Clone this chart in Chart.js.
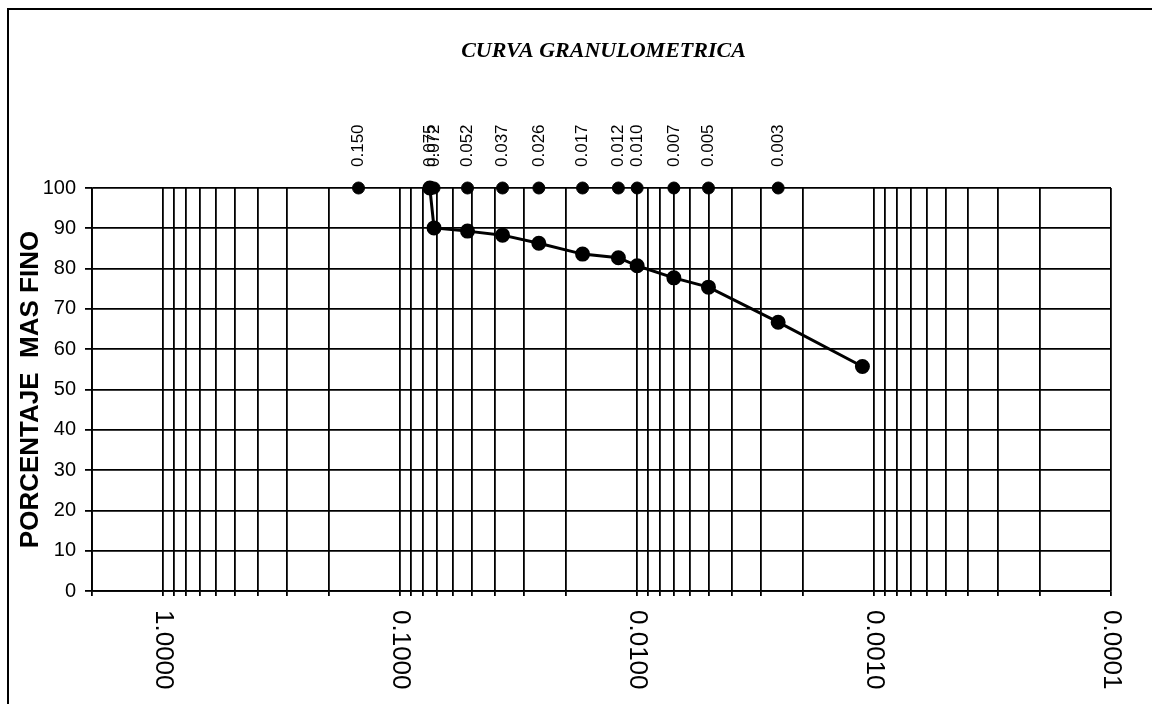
<!DOCTYPE html>
<html>
<head>
<meta charset="utf-8">
<title>Curva granulometrica</title>
<script src="https://cdn.jsdelivr.net/npm/chart.js@4.4.0/dist/chart.umd.min.js"></script>
<style>
  html, body { margin: 0; padding: 0; background: #fff; }
</style>
</head>
<body>
<canvas id="chart" width="1152" height="704"></canvas>
<script>
const titleText = "CURVA GRANULOMETRICA";
const yTitle = "PORCENTAJE  MAS FINO";

// diameters (mm) marked along the 100 % line, each with its label
const markDiameters = [0.150, 0.075, 0.072, 0.052, 0.037, 0.026, 0.017, 0.012, 0.010, 0.007, 0.005, 0.00254];
const markPercent = [100, 100, 100, 100, 100, 100, 100, 100, 100, 100, 100, 100];

// hydrometer / sieve curve
const curveDiameters = [0.075, 0.072, 0.052, 0.037, 0.026, 0.017, 0.012, 0.010, 0.007, 0.005, 0.00254, 0.00112];
const curvePercent = [100, 90.1, 89.3, 88.3, 86.3, 83.6, 82.7, 80.7, 77.7, 75.4, 66.7, 55.7];

// labelled decades on the x axis, and the 1..9 grid inside each decade
const xLabelValues = [1, 0.1, 0.01, 0.001, 0.0001];
const gridDecades = [0.0001, 0.001, 0.01, 0.1, 1];
const gridSteps = [1, 2, 3, 4, 5, 6, 7, 8, 9];
const X_MIN = 0.0001;
const X_MAX = 2;

const sans = "Arial, 'Liberation Sans', sans-serif";

const gridValues = [];
for (const d of gridDecades) {
  for (const s of gridSteps) {
    const v = +(s * d).toPrecision(6);
    if (v <= X_MAX) gridValues.push(v);
  }
}
if (!gridValues.includes(X_MAX)) gridValues.push(X_MAX);

const toPoints = (xs, ys) => xs.map((x, i) => ({ x, y: ys[i] }));

const decor = {
  id: "decor",
  afterDraw(chart) {
    const { ctx, chartArea } = chart;
    const xScale = chart.scales.x;
    ctx.save();

    // outer frame
    ctx.strokeStyle = "#000";
    ctx.lineWidth = 2;
    ctx.strokeRect(8, 9, 1300, 900);

    // title
    ctx.fillStyle = "#000";
    ctx.font = "italic bold 22px 'Liberation Serif', 'Times New Roman', serif";
    ctx.textAlign = "center";
    ctx.textBaseline = "alphabetic";
    ctx.fillText(titleText, (chartArea.left + chartArea.right) / 2 + 2, 57);

    // diameter labels above the markers
    ctx.font = "17px " + sans;
    ctx.textAlign = "left";
    ctx.textBaseline = "middle";
    chart.getDatasetMeta(0).data.forEach((pt, i) => {
      ctx.save();
      ctx.translate(pt.x, chartArea.top - 21);
      ctx.rotate(-Math.PI / 2);
      ctx.fillText(markDiameters[i].toFixed(3), 0, 0);
      ctx.restore();
    });

    // x axis decade labels, reading downwards
    ctx.font = "26px " + sans;
    for (const v of xLabelValues) {
      ctx.save();
      ctx.translate(xScale.getPixelForValue(v), chartArea.bottom + 19);
      ctx.rotate(Math.PI / 2);
      ctx.fillText(v.toFixed(4), 0, 0);
      ctx.restore();
    }
    ctx.restore();
  }
};

new Chart(document.getElementById("chart"), {
  type: "scatter",
  data: {
    datasets: [
      {
        data: toPoints(markDiameters, markPercent),
        showLine: false,
        pointRadius: 6,
        pointBackgroundColor: "#000",
        pointBorderColor: "#000",
        clip: false
      },
      {
        data: toPoints(curveDiameters, curvePercent),
        showLine: true,
        borderColor: "#000",
        borderWidth: 3,
        pointRadius: 6,
        pointBackgroundColor: "#000",
        pointBorderColor: "#000",
        clip: false
      }
    ]
  },
  options: {
    responsive: false,
    animation: false,
    layout: { padding: { top: 188, right: 41, left: 0, bottom: 0 } },
    plugins: {
      legend: { display: false },
      tooltip: { enabled: false }
    },
    scales: {
      x: {
        type: "logarithmic",
        min: X_MIN,
        max: X_MAX,
        reverse: true,
        afterBuildTicks: scale => {
          scale.ticks = gridValues.map(v => ({ value: v }));
        },
        afterFit: scale => { scale.height = 113; },
        ticks: { display: false },
        grid: { color: "#000", lineWidth: 1.8, tickLength: 5 },
        border: { color: "#000", width: 1.8 }
      },
      y: {
        min: 0,
        max: 100,
        afterFit: scale => { scale.width = 92; },
        ticks: {
          stepSize: 10,
          color: "#000",
          padding: 9,
          font: { family: sans, size: 20 }
        },
        grid: { color: "#000", lineWidth: 1.8, tickLength: 7 },
        border: { color: "#000", width: 1.8 },
        title: {
          display: true,
          text: yTitle,
          color: "#000",
          padding: { top: 15, bottom: 0 },
          font: { family: sans, size: 26, weight: "bold" }
        }
      }
    }
  },
  plugins: [decor]
});
</script>
</body>
</html>
